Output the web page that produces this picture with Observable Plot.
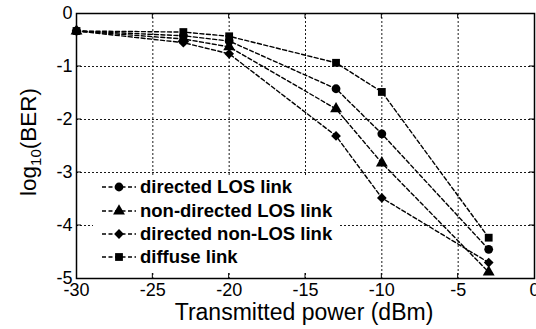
<!DOCTYPE html>
<html>
<head>
<meta charset="utf-8">
<script src="https://cdn.jsdelivr.net/npm/d3@7"></script>
<script src="https://cdn.jsdelivr.net/npm/@observablehq/plot@0.6"></script>
<style>
  html, body { margin: 0; padding: 0; background: #fff; }
</style>
</head>
<body>
<div id="chart"></div>
<script>
// ---- data ----
const power = [-30, -23, -20, -13, -10, -3];
const directedLOS    = [-0.33, -0.42, -0.52, -1.42, -2.27, -4.45];
const nonDirectedLOS = [-0.33, -0.48, -0.63, -1.80, -2.82, -4.88];
const directedNonLOS = [-0.33, -0.55, -0.76, -2.31, -3.48, -4.70];
const diffuse        = [-0.33, -0.35, -0.43, -0.93, -1.48, -4.23];
const seriesNames = ["directed LOS link", "non-directed LOS link", "directed non-LOS link", "diffuse link"];
const seriesValues = [directedLOS, nonDirectedLOS, directedNonLOS, diffuse];
const seriesSymbols = ["circle", "triangle", "diamond2", "square"];
const xTicks = [-30, -25, -20, -15, -10, -5, 0];
const yTicks = [-5, -4, -3, -2, -1, 0];
const xLabel = "Transmitted power (dBm)";

const rows = [];
seriesNames.forEach((name, i) => {
  power.forEach((p, j) => rows.push({series: name, symbol: seriesSymbols[i], x: p, y: seriesValues[i][j]}));
});

const W = 536, H = 329;
const mL = 76, mR = 2, mT = 13, mB = 51;
const font = "'Liberation Sans', Arial, sans-serif";
const fmt = d => String(d);

const plot = Plot.plot({
  width: W, height: H,
  marginLeft: mL, marginRight: mR, marginTop: mT, marginBottom: mB,
  style: {fontFamily: font, fontSize: "18px", background: "#fff", color: "#000", overflow: "visible"},
  x: {domain: [-30, 0], label: null},
  y: {domain: [-5, 0], label: null},
  symbol: {domain: seriesSymbols, range: seriesSymbols},
  marks: [
    Plot.gridX(xTicks.slice(1, -1), {stroke: "#000", strokeOpacity: 1, strokeWidth: 0.9, strokeDasharray: "2,2"}),
    Plot.gridY(yTicks.slice(1, -1), {stroke: "#000", strokeOpacity: 1, strokeWidth: 0.9, strokeDasharray: "2,2"}),
    Plot.axisX(xTicks, {tickSize: 0, tickPadding: 5, fontSize: 18, tickFormat: fmt}),
    Plot.axisY(yTicks, {tickSize: 0, tickPadding: 4, fontSize: 18, tickFormat: fmt}),
    Plot.line(rows, {x: "x", y: "y", z: "series", stroke: "#000", strokeWidth: 1.4, strokeDasharray: "4,2.5"}),
    Plot.dot(rows, {x: "x", y: "y", symbol: "symbol", r: 4.4, fill: "#000", stroke: "none"}),
    Plot.frame({stroke: "#000", strokeWidth: 1.5})
  ]
});

document.getElementById("chart").appendChild(plot);

const svg = d3.select(plot);

// inward ticks on all sides
const xs = plot.scale("x"), ys = plot.scale("y");
const tickG = svg.append("g").attr("stroke", "#000").attr("stroke-width", 1);
xTicks.slice(1, -1).forEach(t => {
  const px = xs.apply(t);
  tickG.append("line").attr("x1", px).attr("x2", px).attr("y1", H - mB).attr("y2", H - mB - 5);
  tickG.append("line").attr("x1", px).attr("x2", px).attr("y1", mT).attr("y2", mT + 5);
});
yTicks.slice(1, -1).forEach(t => {
  const py = ys.apply(t);
  tickG.append("line").attr("x1", mL).attr("x2", mL + 5).attr("y1", py).attr("y2", py);
  tickG.append("line").attr("x1", W - mR).attr("x2", W - mR - 5).attr("y1", py).attr("y2", py);
});

// axis labels
svg.append("text")
  .attr("x", 304).attr("y", 320)
  .attr("text-anchor", "middle")
  .style("font-family", font).style("font-size", "23px").attr("fill", "#000")
  .text(xLabel);

const yl = svg.append("text")
  .attr("transform", `translate(36,142) rotate(-90)`)
  .attr("text-anchor", "middle")
  .style("font-family", font).style("font-size", "22.5px").attr("fill", "#000");
yl.append("tspan").text("log");
yl.append("tspan").attr("dy", 5).style("font-size", "15px").text("10");
yl.append("tspan").attr("dy", -5).text("(BER)");

// legend
const lg = svg.append("g").attr("text-anchor", "start");
lg.append("rect").attr("x", 93).attr("y", 175).attr("width", 245).attr("height", 97).attr("fill", "#fff");
const rowY = [187, 211, 234, 257];
seriesNames.forEach((name, i) => {
  const y = rowY[i];
  lg.append("line").attr("x1", 102).attr("x2", 136).attr("y1", y).attr("y2", y)
    .attr("stroke", "#000").attr("stroke-width", 1.4).attr("stroke-dasharray", "4,2.5");
  const symType = {circle: d3.symbolCircle, triangle: d3.symbolTriangle, diamond2: d3.symbolDiamond2, square: d3.symbolSquare}[seriesSymbols[i]];
  lg.append("path").attr("d", d3.symbol(symType, Math.PI * 4.4 * 4.4)())
    .attr("transform", `translate(119,${y})`).attr("fill", "#000");
  lg.append("text").attr("x", 140).attr("y", y).attr("dy", "0.35em")
    .attr("text-anchor", "start")
    .style("font-family", font).style("font-size", "18.5px").style("font-weight", "bold").attr("fill", "#000")
    .text(name);
});
</script>
</body>
</html>
